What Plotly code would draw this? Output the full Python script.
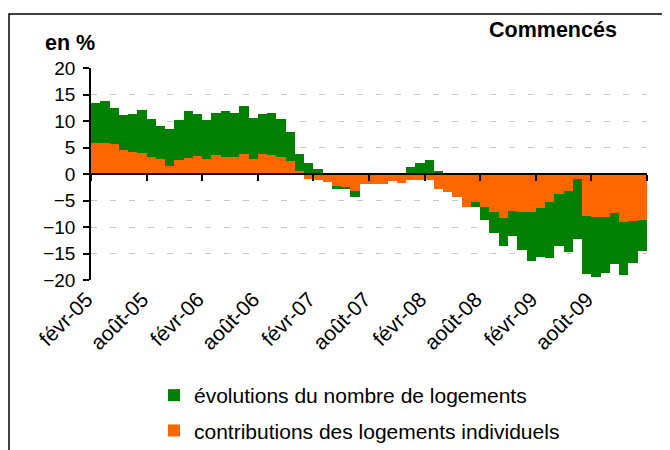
import plotly.graph_objects as go

# ---- data -------------------------------------------------------------
months = [
    "févr-05", "mars-05", "avr-05", "mai-05", "juin-05", "juil-05", "août-05", "sept-05", "oct-05", "nov-05", "déc-05",
    "janv-06", "févr-06", "mars-06", "avr-06", "mai-06", "juin-06", "juil-06", "août-06", "sept-06", "oct-06", "nov-06", "déc-06",
    "janv-07", "févr-07", "mars-07", "avr-07", "mai-07", "juin-07", "juil-07", "août-07", "sept-07", "oct-07", "nov-07", "déc-07",
    "janv-08", "févr-08", "mars-08", "avr-08", "mai-08", "juin-08", "juil-08", "août-08", "sept-08", "oct-08", "nov-08", "déc-08",
    "janv-09", "févr-09", "mars-09", "avr-09", "mai-09", "juin-09", "juil-09", "août-09", "sept-09", "oct-09", "nov-09", "déc-09",
    "janv-10",
]

evolution = [
    13.4, 13.7, 12.4, 11.2, 11.4, 12.0, 10.4, 9.1, 8.4, 10.2, 11.8,
    11.4, 10.2, 11.5, 11.9, 11.5, 12.8, 10.5, 11.4, 11.6, 10.3, 8.0, 3.8,
    2.1, 1.0, -1.2, -2.9, -2.8, -4.4, -1.5, -1.5, -1.6, -1.0, -1.4, 1.3,
    2.1, 2.7, 0.6, -3.0, -4.0, -5.9, -6.3, -8.6, -11.1, -13.5, -11.7, -14.4,
    -16.5, -15.7, -15.8, -13.6, -14.8, -12.3, -18.8, -19.4, -18.6, -17.0, -19.0, -16.7,
    -14.6,
]

contribution = [
    5.9, 5.9, 5.6, 4.6, 4.2, 4.0, 3.2, 2.8, 1.6, 2.7, 3.1,
    3.4, 2.8, 3.5, 3.2, 3.2, 3.7, 2.9, 3.8, 3.5, 3.3, 2.4, 0.6,
    -0.9, -1.1, -1.6, -2.3, -2.5, -3.3, -1.8, -1.8, -1.9, -1.3, -1.7, -1.2,
    -1.2, -1.1, -2.8, -3.4, -4.4, -6.3, -5.2, -6.3, -7.1, -8.3, -7.0, -7.1,
    -7.2, -6.4, -5.3, -3.7, -3.3, -0.9, -8.0, -8.2, -8.1, -7.3, -9.0, -8.8,
    -8.7,
]

tick_labels = ["févr-05", "août-05", "févr-06", "août-06", "févr-07",
               "août-07", "févr-08", "août-08", "févr-09", "août-09"]

series_names = ["évolutions du nombre de logements",
                "contributions des logements individuels"]

# ---- geometry (page has an 8px body margin) ----------------------------
FONT = "Arial, Liberation Sans, sans-serif"
OFF = 8
W, H = 670 - OFF, 520          # taller than the window; the overflow is cropped
PLOT_L, PLOT_R, PLOT_T, PLOT_B = 91, 647, 68, 280   # screen px of the plot box
ML, MT = PLOT_L - OFF, PLOT_T - OFF
MR, MB = W - (PLOT_R - OFF), 0
PW, PH = W - ML - MR, H - MT - MB


def px_x(p):  # screen px -> paper x
    return (p - OFF - ML) / PW


def px_y(p):  # screen px -> paper y
    return (H - MB - (p - OFF)) / PH


Y_MIN, Y_MAX = -20, 20
dom0 = px_y(PLOT_B)
zero_pos = dom0 + (0 - Y_MIN) / (Y_MAX - Y_MIN) * (1 - dom0)

idx = list(range(len(months)))
n = len(months)

fig = go.Figure()
fig.add_trace(go.Bar(x=idx, y=evolution, name=series_names[0], width=1,
                     marker=dict(color="#008000", line=dict(width=0)),
                     legendgroup="g1", xaxis="x", yaxis="y"))
fig.add_trace(go.Bar(x=idx, y=contribution, name=series_names[1], width=1,
                     marker=dict(color="#FF6600", line=dict(width=0)),
                     legendgroup="g2", xaxis="x2", yaxis="y"))

fig.update_layout(
    template="none",
    width=W, height=H,
    margin=dict(l=ML, r=MR, t=MT, b=MB, pad=0, autoexpand=False),
    paper_bgcolor="white", plot_bgcolor="white",
    barmode="overlay", bargap=0,
    font=dict(family=FONT, color="black", size=19),
    xaxis=dict(
        anchor="free", position=zero_pos, automargin=False,
        range=[-0.5, n - 0.5],
        tickmode="array",
        tickvals=[i - 0.5 for i in range(0, n + 1, 6)],
        showticklabels=False,
        ticks="outside", ticklen=6, tickwidth=1.5, tickcolor="black",
        showline=True, linecolor="black", linewidth=1.5,
        showgrid=False, zeroline=False,
    ),
    xaxis2=dict(
        overlaying="x", anchor="y", side="bottom", automargin=False,
        range=[-0.5, n - 0.5],
        tickmode="array",
        tickvals=[months.index(t) for t in tick_labels],
        ticktext=tick_labels,
        tickangle=-45,
        ticklabelshift=-9,
        ticklabelstandoff=2,
        tickfont=dict(family=FONT, size=21, color="black"),
        ticks="", showline=False, showgrid=False, zeroline=False,
    ),
    yaxis=dict(
        domain=[dom0, 1], automargin=False,
        range=[Y_MIN, Y_MAX], tick0=0, dtick=5,
        tickfont=dict(family=FONT, size=19, color="black"),
        ticks="outside", ticklen=6, tickwidth=1.5, tickcolor="black",
        ticklabelstandoff=4,
        showline=True, linecolor="black", linewidth=1.5,
        showgrid=True, gridcolor="#c8c8c8", gridwidth=1, griddash="6px,13px",
        zeroline=False,
    ),
    legend=dict(
        orientation="v", traceorder="grouped",
        x=px_x(154), xanchor="left",
        y=px_y(375), yanchor="top",
        font=dict(family=FONT, size=21, color="black"),
        bgcolor="rgba(0,0,0,0)", borderwidth=0, tracegroupgap=5,
    ),
    shapes=[dict(type="rect", xref="paper", yref="paper",
                 x0=px_x(9), x1=px_x(665), y0=px_y(500), y1=px_y(14),
                 line=dict(color="black", width=1.5), fillcolor="rgba(0,0,0,0)")],
    annotations=[
        dict(text="<b>Commencés</b>", xref="paper", yref="paper",
             x=px_x(553), y=px_y(30), xanchor="center", yanchor="middle",
             showarrow=False, font=dict(family=FONT, size=21.5, color="black")),
        dict(text="<b>en %</b>", xref="paper", yref="paper",
             x=px_x(70), y=px_y(43), xanchor="center", yanchor="middle",
             showarrow=False, font=dict(family=FONT, size=21.5, color="black")),
    ],
)

fig.write_html("out.html")
